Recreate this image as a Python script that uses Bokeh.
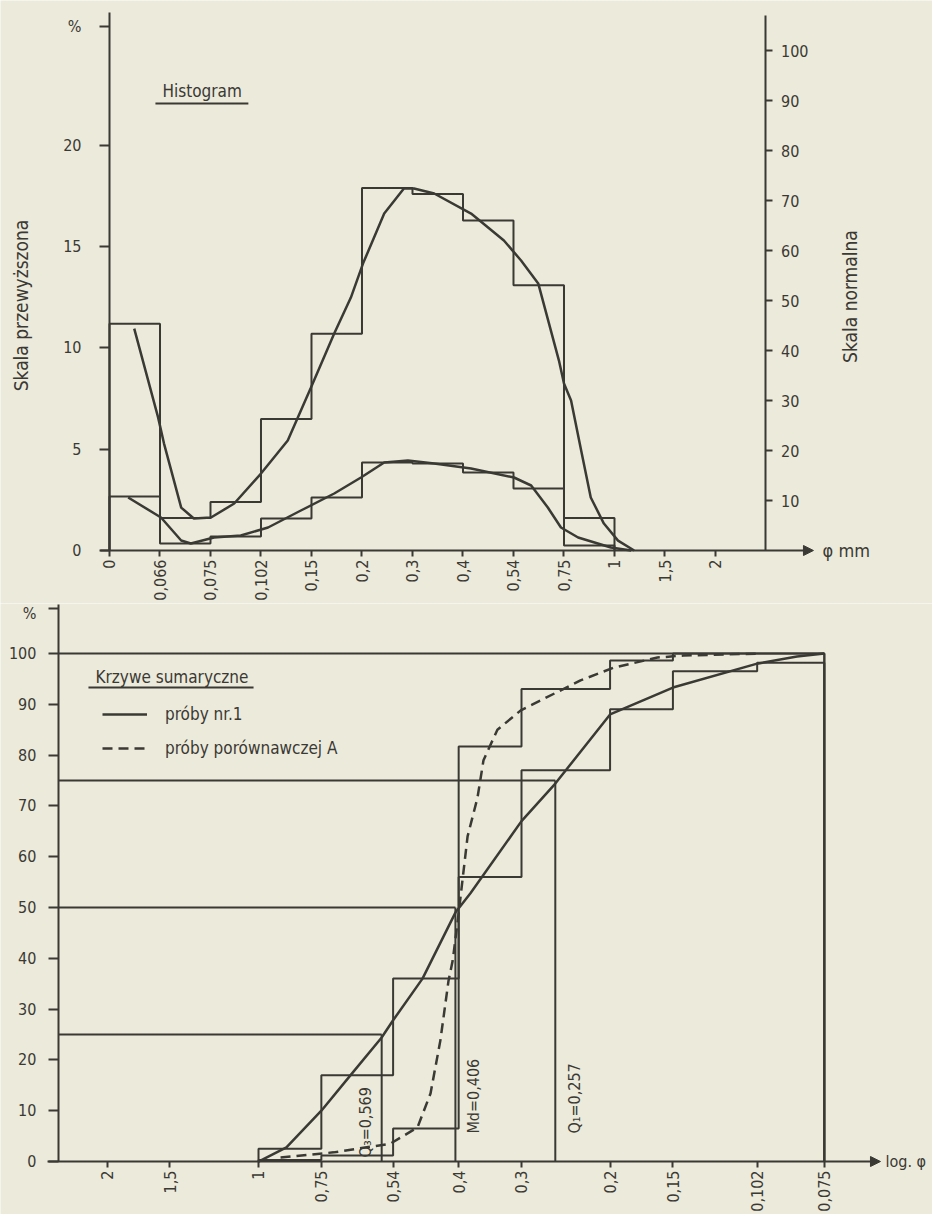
import math
from bokeh.plotting import figure
from bokeh.models import (Range1d, LinearAxis, FixedTicker, Label, Arrow, NormalHead,
                          Legend, LegendItem)
from bokeh.embed import file_html
from bokeh.resources import INLINE

# ---------------- data ----------------
# Top panel: grain-size class boundaries (plotted equally spaced), phi in mm
class_labels = ["0", "0,066", "0,075", "0,102", "0,15", "0,2", "0,3", "0,4",
                "0,54", "0,75", "1", "1,5", "2"]
# histogram (% per class) drawn on the exaggerated (left) scale
hist_exag = [11.2, 1.6, 2.4, 6.5, 10.7, 17.9, 17.6, 16.3, 13.1, 1.6]
# same histogram drawn on the normal (right) scale
hist_norm = [10.8, 1.4, 2.8, 6.4, 10.6, 17.6, 17.4, 15.6, 12.4, 1.0]
# smoothed frequency curves (x in class-boundary units)
curve_exag_x = [0.49, 0.96, 1.08, 1.42, 1.67, 2.01, 2.47, 3.0, 3.53, 3.99, 4.45, 4.78,
                5.02, 5.44, 5.83, 6.03, 6.43, 7.16, 7.81, 8.15, 8.49, 8.90, 9.0, 9.14,
                9.34, 9.53, 9.79, 10.07, 10.39]
curve_exag_y = [10.96, 6.6, 5.28, 2.12, 1.58, 1.63, 2.32, 3.80, 5.43, 8.05, 10.72, 12.49,
                14.17, 16.64, 17.88, 17.88, 17.63, 16.64, 15.31, 14.32, 13.19, 9.38, 8.25,
                7.41, 4.94, 2.62, 1.33, 0.49, 0.0]
curve_norm_x = [0.37, 1.02, 1.42, 1.61, 2.07, 2.60, 3.14, 3.79, 4.45, 4.98, 5.44, 5.91,
                6.43, 7.16, 8.01, 8.35, 8.68, 8.94, 9.28, 9.93, 10.33]
curve_norm_y = [10.6, 6.6, 2.0, 1.4, 2.6, 3.0, 4.6, 8.0, 11.4, 14.6, 17.6, 18.0,
                17.4, 16.4, 14.6, 13.0, 8.6, 4.6, 2.6, 0.6, 0.0]
exag_ticks = [0, 5, 10, 15, 20]
norm_ticks = [10, 20, 30, 40, 50, 60, 70, 80, 90, 100]
exag_top = 26.57
norm_top = 107.0
pct_mark_top = 25.9          # where the "%" sign sits on the exaggerated scale

# Bottom panel: cumulative curves on log(phi)
phi_ticks = [2, 1.5, 1, 0.75, 0.54, 0.4, 0.3, 0.2, 0.15, 0.102, 0.075]
phi_labels = ["2", "1,5", "1", "0,75", "0,54", "0,4", "0,3", "0,2", "0,15", "0,102", "0,075"]
cum_edges = [1, 0.75, 0.54, 0.4, 0.3, 0.2, 0.15, 0.102, 0.075]
cum_nr1 = [2.5, 17.0, 36.0, 56.0, 77.0, 89.0, 96.5, 98.2]
cum_A = [0.3, 1.2, 6.5, 81.7, 93.0, 98.6, 100.0, 100.0]
sum_nr1_phi = [1.0, 0.88, 0.75, 0.656, 0.569, 0.54, 0.472, 0.406, 0.379, 0.3, 0.257,
               0.2, 0.15, 0.102, 0.085, 0.075]
sum_nr1_pct = [0.0, 2.8, 10.0, 17.0, 24.4, 27.8, 36.0, 49.0, 52.8, 67.0, 74.4,
               88.0, 93.3, 98.0, 99.4, 100.0]
sum_A_phi = [0.904, 0.709, 0.547, 0.483, 0.455, 0.435, 0.419, 0.411, 0.401, 0.384, 0.367,
             0.357, 0.335, 0.301, 0.229, 0.197, 0.161, 0.143, 0.1]
sum_A_pct = [0.8, 1.8, 3.5, 6.7, 13.4, 23.8, 35.6, 39.6, 48.0, 64.0, 71.6,
             79.0, 85.0, 88.8, 94.7, 97.2, 99.2, 99.6, 100.0]
pct_ticks = [0, 10, 20, 30, 40, 50, 60, 70, 80, 90, 100]
pct_top = 109.6
pct_mark_bot = 108.9
phi_axis = 2.5               # phi at which the % axis stands
quart_phi = [0.569, 0.406, 0.257]
quart_pct = [25, 50, 75]
quart_labels = ["Q\u2083=0,569", "Md=0,406", "Q\u2081=0,257"]

# ---------------- style ----------------
INK = "#3a3934"
PAPER = "#eceadb"
FONT = "'Liberation Sans Narrow', 'DejaVu Sans Condensed', sans-serif"
FS = "16px"
FS_T = "19px"


def style_fig(p):
    p.background_fill_color = PAPER
    p.border_fill_color = PAPER
    p.outline_line_color = None
    p.grid.visible = False


def style_axis(ax):
    ax.axis_line_color = INK
    ax.axis_line_width = 2
    ax.major_tick_line_color = INK
    ax.major_tick_line_width = 2
    ax.minor_tick_line_color = None
    ax.major_tick_in = 0
    ax.major_label_text_font = FONT
    ax.major_label_text_font_size = FS
    ax.major_label_text_color = INK


def outline(edges, vals):
    xs, ys = [edges[0]], [0]
    for i, v in enumerate(vals):
        xs += [edges[i], edges[i + 1]]
        ys += [v, v]
    xs.append(edges[-1])
    ys.append(0)
    return xs, ys


def lab(p, text, x, y, units="data", angle=0.0, align="left", base="middle",
        xoff=0, yoff=0, size=FS, **kw):
    p.add_layout(Label(x=x, y=y, x_units=units, y_units=units, text=text, angle=angle,
                       text_align=align, text_baseline=base, x_offset=xoff, y_offset=yoff,
                       text_font=FONT, text_font_size=size, text_color=INK, **kw))


# ---------------- top panel ----------------
n_cls = len(class_labels)
p1 = figure(width=932, height=603, x_range=Range1d(-2.158, 16.297),
            y_range=Range1d(-2.617, 27.16), output_backend="svg", toolbar_location=None,
            min_border=0)
style_fig(p1)
p1.extra_y_ranges = {"normal": Range1d(-10.6, 110.0)}

xa = p1.xaxis[0]
style_axis(xa)
xa.fixed_location = 0
xa.axis_line_color = None
xa.ticker = FixedTicker(ticks=list(range(n_cls)))
xa.major_label_overrides = {i: t for i, t in enumerate(class_labels)}
xa.major_label_orientation = math.pi / 2
xa.major_tick_out = 6
xa.major_label_standoff = 3

ya = p1.yaxis[0]
style_axis(ya)
ya.fixed_location = 0
ya.bounds = (0, exag_top)
ya.ticker = FixedTicker(ticks=exag_ticks + [pct_mark_top])
ya.major_label_overrides = {pct_mark_top: "%"}
ya.major_tick_out = 10
ya.major_label_standoff = 18

ax_r = LinearAxis(y_range_name="normal", fixed_location=n_cls, bounds=(0, norm_top),
                  ticker=FixedTicker(ticks=norm_ticks))
style_axis(ax_r)
ax_r.major_tick_out = 7
ax_r.major_label_standoff = 8
p1.add_layout(ax_r, "right")

edges_top = list(range(len(hist_exag) + 1))
hx, hy = outline(edges_top, hist_exag)
p1.line(hx, hy, line_color=INK, line_width=2)
nx, ny = outline(edges_top, hist_norm)
p1.line(nx, ny, line_color=INK, line_width=2, y_range_name="normal")
p1.line(curve_exag_x, curve_exag_y, line_color=INK, line_width=2.5)
p1.line(curve_norm_x, curve_norm_y, line_color=INK, line_width=2.5, y_range_name="normal")

# baseline with arrow (phi axis)
p1.add_layout(Arrow(end=NormalHead(size=10, fill_color=INK, line_color=INK),
                    x_start=-0.18, y_start=0, x_end=13.94, y_end=0,
                    line_color=INK, line_width=2))
lab(p1, "φ mm", 14.12, 0, size="18px")
lab(p1, "Histogram", 1.05, 22.67, size="17px")
p1.segment(x0=[0.91], y0=[22.07], x1=[2.75], y1=[22.07], line_color=INK, line_width=2)
lab(p1, "Skala przewyższona", -1.76, 12.1, angle=math.pi / 2, align="center", size=FS_T)
lab(p1, "Skala normalna", 14.67, 12.54, angle=math.pi / 2, align="center", size=FS_T)

# ---------------- bottom panel ----------------
p2 = figure(width=932, height=611, x_axis_type="log", x_range=Range1d(3.258, 0.04571),
            y_range=Range1d(-10.43, 109.84), output_backend="svg", toolbar_location=None,
            min_border=0)
style_fig(p2)
xb = p2.xaxis[0]
style_axis(xb)
xb.fixed_location = 0
xb.axis_line_color = None
xb.ticker = FixedTicker(ticks=phi_ticks)
xb.major_label_overrides = {v: t for v, t in zip(phi_ticks, phi_labels)}
xb.major_label_orientation = math.pi / 2
xb.major_tick_out = 6
xb.major_label_standoff = 3
yb = p2.yaxis[0]
style_axis(yb)
yb.fixed_location = phi_axis
yb.bounds = (0, pct_top)
yb.ticker = FixedTicker(ticks=pct_ticks + [pct_mark_bot])
yb.major_label_overrides = {pct_mark_bot: "%"}
yb.major_tick_out = 10
yb.major_label_standoff = 12

fine_end = cum_edges[-1]
# frame lines: 100 % and finest boundary
p2.line([phi_axis, fine_end], [100, 100], line_color=INK, line_width=2)
p2.line([fine_end, fine_end], [0, 100], line_color=INK, line_width=2)
# quartile / median guide lines
for q, pc in zip(quart_phi, quart_pct):
    p2.line([phi_axis, q], [pc, pc], line_color=INK, line_width=2)
    p2.line([q, q], [0, pc], line_color=INK, line_width=2)

sx1, sy1 = outline(cum_edges, cum_nr1)
p2.line(sx1, sy1, line_color=INK, line_width=2)
sxA, syA = outline(cum_edges, cum_A)
p2.line(sxA, syA, line_color=INK, line_width=2)

r_nr1 = p2.line(sum_nr1_phi, sum_nr1_pct, line_color=INK, line_width=2.5)
r_A = p2.line(sum_A_phi, sum_A_pct, line_color=INK, line_width=2.5, line_dash="10 6")

p2.add_layout(Arrow(end=NormalHead(size=10, fill_color=INK, line_color=INK),
                    x_start=2.627, y_start=0, x_end=0.058, y_end=0,
                    line_color=INK, line_width=2))
lab(p2, "log. φ", 0.0567, 0, size="16px")

label_off = [-16, 18, 19]
label_y = [0.8, 5.5, 5.5]
for q, t, xo, yy in zip(quart_phi, quart_labels, label_off, label_y):
    lab(p2, t, q, yy, angle=math.pi / 2, xoff=xo)

legend = Legend(items=[LegendItem(label="próby nr.1", renderers=[r_nr1]),
                       LegendItem(label="próby porównawczej A", renderers=[r_A])],
                location=(102, 456), glyph_width=45, glyph_height=20, label_height=20,
                label_standoff=18, spacing=14, padding=0, margin=0,
                border_line_color=None, background_fill_alpha=0,
                label_text_font=FONT, label_text_font_size="17px", label_text_color=INK)
p2.add_layout(legend)
lab(p2, "Krzywe sumaryczne", 95, 538, units="screen", size="17px")
p2.segment(x0=[2.178], y0=[93.3], x1=[1.023], y1=[93.3], line_color=INK, line_width=2)

open("out.html", "w").write(file_html([p1, p2], INLINE))
